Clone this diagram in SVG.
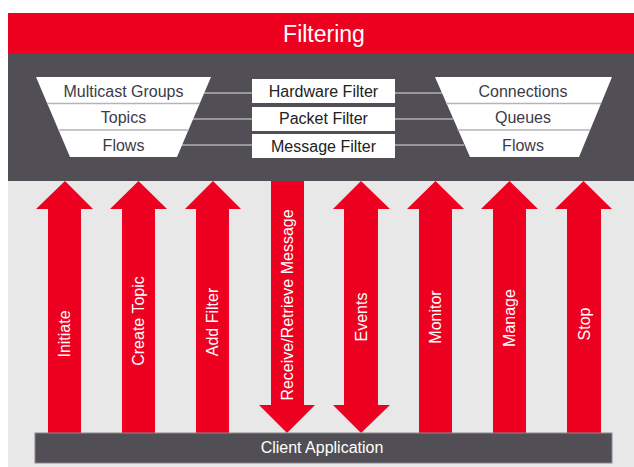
<svg xmlns="http://www.w3.org/2000/svg" width="634" height="467" viewBox="0 0 634 467">
<style>
text{font-family:"Liberation Sans",Arial,sans-serif;font-size:16px}
.dk{fill:#3b3b47;text-anchor:middle}
.wt{fill:#ffffff;text-anchor:middle}
.box{fill:#ffffff}
.sep{stroke:#b4b4b8;stroke-width:1.5}
.arr{fill:#ee0020}
.conn{stroke:#b0b0b0;stroke-width:1.6;fill:none}
</style>
<rect width="634" height="467" fill="#ffffff"/>
<g id="title">
<rect x="8" y="13" width="626" height="41" fill="#ee0020"/>
<text class="wt" x="324" y="42" style="font-size:23px">Filtering</text>
</g>
<rect id="band" x="8" y="54" width="626" height="127" fill="#514f55"/>
<rect id="bottom" x="8" y="181" width="626" height="286" fill="#e8e8e8"/>
<g id="connectors">
<line class="conn" x1="203" y1="93" x2="252" y2="93"/>
<line class="conn" x1="192" y1="119" x2="252" y2="119"/>
<line class="conn" x1="181" y1="145" x2="252" y2="145"/>
<line class="conn" x1="395" y1="93" x2="442" y2="93"/>
<line class="conn" x1="395" y1="119" x2="453" y2="119"/>
<line class="conn" x1="395" y1="145" x2="464" y2="145"/>
</g>
<g id="left-funnel">
<polygon class="box" points="36,77 211,77 177,157 70,157"/>
<line class="sep" x1="47" y1="103.5" x2="200" y2="103.5"/>
<line class="sep" x1="58.5" y1="130" x2="188.5" y2="130"/>
<text class="dk" x="123.5" y="97">Multicast Groups</text>
<text class="dk" x="123.5" y="123">Topics</text>
<text class="dk" x="123.5" y="151">Flows</text>
</g>
<g id="filters">
<rect class="box" x="252" y="79" width="143" height="24"/>
<rect class="box" x="252" y="107" width="143" height="24"/>
<rect class="box" x="252" y="134" width="143" height="24"/>
<text class="dk" x="323.5" y="97" style="fill:#222">Hardware Filter</text>
<text class="dk" x="323.5" y="124" style="fill:#222">Packet Filter</text>
<text class="dk" x="323.5" y="152" style="fill:#222">Message Filter</text>
</g>
<g id="right-funnel">
<polygon class="box" points="435,77 612,77 579,157 470,157"/>
<line class="sep" x1="446" y1="103.5" x2="601" y2="103.5"/>
<line class="sep" x1="457.5" y1="130" x2="590" y2="130"/>
<text class="dk" x="523" y="97">Connections</text>
<text class="dk" x="523" y="123">Queues</text>
<text class="dk" x="523" y="151">Flows</text>
</g>
<g id="arrows">
<g id="a-initiate">
<polygon class="arr" points="65,181 93,209 81,209 81,433 48,433 48,209 36,209"/>
<text class="wt" transform="translate(64.5,334) rotate(-90)" y="5.5">Initiate</text>
</g>
<g id="a-create-topic">
<polygon class="arr" points="138.5,181 167,209 155,209 155,433 122,433 122,209 110,209"/>
<text class="wt" transform="translate(138.5,321) rotate(-90)" y="5.5">Create Topic</text>
</g>
<g id="a-add-filter">
<polygon class="arr" points="213,181 241,209 229,209 229,433 196,433 196,209 185,209"/>
<text class="wt" transform="translate(212.5,322) rotate(-90)" y="5.5">Add Filter</text>
</g>
<g id="a-receive">
<polygon class="arr" points="271,181 304,181 304,405 315,405 287,433 259,405 271,405"/>
<text class="wt" transform="translate(287.5,305) rotate(-90)" y="5.5">Receive/Retrieve Message</text>
</g>
<g id="a-events">
<polygon class="arr" points="361,181 390,209 378,209 378,405 390,405 361,433 333,405 344,405 344,209 333,209"/>
<text class="wt" transform="translate(361,317) rotate(-90)" y="5.5">Events</text>
</g>
<g id="a-monitor">
<polygon class="arr" points="435.5,181 464,209 452,209 452,433 419,433 419,209 407,209"/>
<text class="wt" transform="translate(435.5,317) rotate(-90)" y="5.5">Monitor</text>
</g>
<g id="a-manage">
<polygon class="arr" points="509.5,181 538,209 526,209 526,433 493,433 493,209 481,209"/>
<text class="wt" transform="translate(509.5,318) rotate(-90)" y="5.5">Manage</text>
</g>
<g id="a-stop">
<polygon class="arr" points="583.5,181 612,209 601,209 601,433 567,433 567,209 555,209"/>
<text class="wt" transform="translate(584,324) rotate(-90)" y="5.5">Stop</text>
</g>
</g>
<g id="client">
<rect x="35" y="433" width="577" height="30" fill="#514f55" stroke="#8a898e" stroke-width="1"/>
<text class="wt" x="322" y="453">Client Application</text>
</g>
</svg>
